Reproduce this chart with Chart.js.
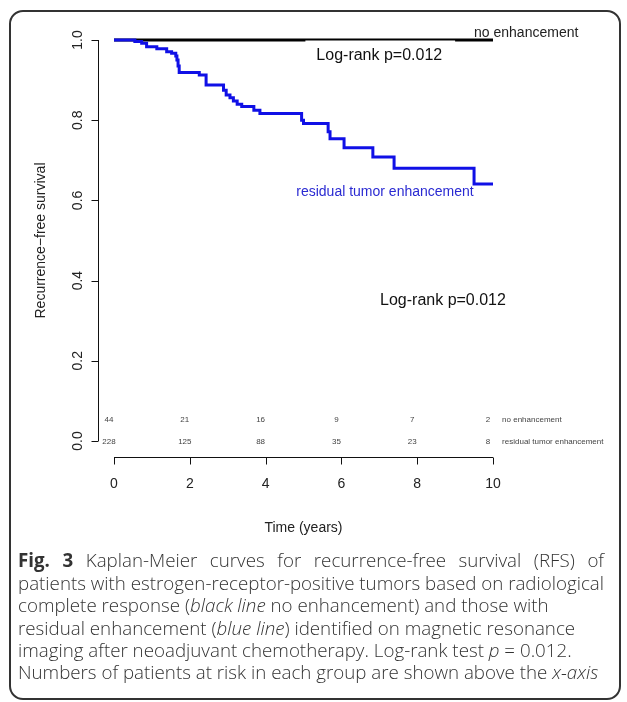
<!DOCTYPE html>
<html>
<head>
<meta charset="utf-8">
<script src="https://cdn.jsdelivr.net/npm/chart.js@4.4.1/dist/chart.umd.min.js"></script>
<style>
    html, body { margin: 0; padding: 0; background: #fff; }
    #wrap { position: relative; width: 627px; height: 702px; overflow: hidden; }
    #frame { position: absolute; left: 9px; top: 10px; width: 608px; height: 686px; border: 2px solid #333; border-radius: 14px; }
    #c { position: absolute; left: 0; top: 0; }
</style>
</head>
<body>
<div id="wrap">
    <div id="frame"></div>
    <canvas id="c" width="627" height="702"></canvas>
</div>
<script>
// data
const timeTicks = [0, 2, 4, 6, 8, 10];
const survTicks = [0, 0.2, 0.4, 0.6, 0.8, 1.0];
const groups = ['no enhancement', 'residual tumor enhancement'];

const noEnhTime = [0, 10];
const noEnhSurv = [1, 1];

const residTime = [0, 0.55, 0.73, 0.86, 1.13, 1.39, 1.52, 1.63, 1.66, 1.69, 1.72, 2.25, 2.43,
    2.89, 2.96, 3.06, 3.15, 3.25, 3.37, 3.69, 3.85, 4.95, 5.0, 5.65, 5.7, 6.07, 6.83, 7.39, 9.5, 10];
const residSurv = [1, 0.996, 0.992, 0.983, 0.978, 0.971, 0.967, 0.96, 0.95, 0.935, 0.919, 0.913, 0.888,
    0.875, 0.863, 0.856, 0.848, 0.84, 0.834, 0.825, 0.817, 0.8, 0.792, 0.771, 0.754, 0.731, 0.708, 0.68, 0.641, 0.641];

const atRiskNoEnh = [44, 21, 16, 9, 7, 2];
const atRiskResid = [228, 125, 88, 35, 23, 8];

const pValueText = 'Log-rank p=0.012';

const caption = [
    [['Fig. 3', 'b'], [' Kaplan-Meier curves for recurrence-free survival (RFS) of', '']],
    [['patients with estrogen-receptor-positive tumors based on radiological', '']],
    [['complete response (', ''], ['black line', 'i'], [' no enhancement) and those with', '']],
    [['residual enhancement (', ''], ['blue line', 'i'], [') identified on magnetic resonance', '']],
    [['imaging after neoadjuvant chemotherapy. Log-rank test ', ''], ['p', 'i'], [' = 0.012.', '']],
    [['Numbers of patients at risk in each group are shown above the ', ''], ['x-axis', 'i']]
];

const R_FONT = '"Liberation Sans", Arial, sans-serif';
const CAP_FONT = '"Open Sans", sans-serif';

function toPoints(xs, ys) {
    return xs.map((x, i) => ({ x: x, y: ys[i] }));
}

function capFont(style) {
    if (style === 'b') return '700 19px ' + CAP_FONT;
    if (style === 'i') return 'italic 300 19px ' + CAP_FONT;
    return '300 19px ' + CAP_FONT;
}

function tokens(line) {
    const out = [];
    line.forEach(([text, style]) => {
        text.split(/( )/).forEach(piece => {
            if (piece) out.push({ text: piece, font: capFont(style), space: piece === ' ' });
        });
    });
    return out;
}

function lineWidth(ctx, toks) {
    let w = 0;
    toks.forEach(t => { ctx.font = t.font; w += ctx.measureText(t.text).width; });
    return w;
}

// draws a caption line squeezed by sx, optionally justified to width
function drawCaptionLine(ctx, line, x0, y, sx, justify) {
    const toks = tokens(line);
    const natural = lineWidth(ctx, toks);
    const gaps = toks.filter(t => t.space).length;
    const extra = justify && gaps ? (justify / sx - natural) / gaps : 0;
    ctx.save();
    ctx.translate(x0, y);
    ctx.scale(sx, 1);
    let x = 0;
    toks.forEach(t => {
        ctx.font = t.font;
        if (!t.space) ctx.fillText(t.text, x, 0);
        x += ctx.measureText(t.text).width + (t.space ? extra : 0);
    });
    ctx.restore();
}

const rStylePlot = {
    id: 'rStylePlot',
    afterDatasetsDraw(chart) {
        const ctx = chart.ctx;
        const xs = chart.scales.x;
        const ys = chart.scales.y;
        const px = v => xs.getPixelForValue(v);
        const py = v => ys.getPixelForValue(v);

        ctx.save();

        // white legend box behind the first p-value, it eats half of the black line
        ctx.fillStyle = '#fff';
        ctx.fillRect(px(5.05), py(1) + 0.5, px(9.0) - px(5.05), 34);

        // axes, R style: detached by 4%
        ctx.strokeStyle = '#111';
        ctx.lineWidth = 1;
        const xAxisY = Math.round(py(-0.04)) + 0.5;
        const yAxisX = Math.round(px(-0.42)) + 0.5;
        ctx.beginPath();
        ctx.moveTo(px(timeTicks[0]), xAxisY);
        ctx.lineTo(px(timeTicks[timeTicks.length - 1]), xAxisY);
        timeTicks.forEach(t => {
            const x = Math.round(px(t)) + 0.5;
            ctx.moveTo(x, xAxisY);
            ctx.lineTo(x, xAxisY + 7);
        });
        ctx.moveTo(yAxisX, py(survTicks[0]));
        ctx.lineTo(yAxisX, py(survTicks[survTicks.length - 1]));
        survTicks.forEach(s => {
            const y = Math.round(py(s)) + 0.5;
            ctx.moveTo(yAxisX, y);
            ctx.lineTo(yAxisX - 7, y);
        });
        ctx.stroke();

        ctx.fillStyle = '#222';
        ctx.font = '14px ' + R_FONT;
        ctx.textAlign = 'center';
        ctx.textBaseline = 'middle';
        timeTicks.forEach(t => ctx.fillText(String(t), px(t), xAxisY + 27));
        survTicks.forEach(s => {
            ctx.save();
            ctx.translate(yAxisX - 20, py(s));
            ctx.rotate(-Math.PI / 2);
            ctx.fillText(s.toFixed(1), 0, 0);
            ctx.restore();
        });

        // axis titles
        ctx.fillText('Time (years)', px(5), xAxisY + 71);
        ctx.save();
        ctx.translate(yAxisX - 57, py(0.5));
        ctx.rotate(-Math.PI / 2);
        ctx.fillText('Recurrence\u2212free survival', 0, 0);
        ctx.restore();

        // at-risk numbers
        ctx.font = '8px ' + R_FONT;
        ctx.fillStyle = '#444';
        timeTicks.forEach((t, i) => {
            ctx.fillText(String(atRiskNoEnh[i]), px(t) - 5, py(0.052));
            ctx.fillText(String(atRiskResid[i]), px(t) - 5, py(-0.002));
        });
        ctx.textAlign = 'left';
        ctx.fillText(groups[0], px(10.24), py(0.052));
        ctx.fillText(groups[1], px(10.24), py(-0.002));

        // curve labels and p-values
        ctx.fillStyle = '#222';
        ctx.font = '14px ' + R_FONT;
        ctx.fillText(groups[0], px(9.5), py(1.017));
        ctx.fillStyle = '#2a2ad2';
        ctx.textAlign = 'center';
        ctx.fillText(groups[1], px(7.15), py(0.621));
        ctx.fillStyle = '#111';
        ctx.font = '16px ' + R_FONT;
        ctx.fillText(pValueText, px(7.0), py(0.96));
        ctx.fillText(pValueText, px(8.68), py(0.35));

        // figure caption
        ctx.fillStyle = '#333';
        ctx.textAlign = 'left';
        ctx.textBaseline = 'middle';
        const capLeft = 18;
        const capWidth = 586;
        const sx = capWidth / lineWidth(ctx, tokens(caption[1]));
        const capTop = 562;
        const capStep = 22.4;
        caption.forEach((line, i) => {
            drawCaptionLine(ctx, line, capLeft, capTop + i * capStep, sx, i === 0 ? capWidth : 0);
        });

        ctx.restore();
    }
};

new Chart(document.getElementById('c'), {
    type: 'line',
    data: {
        datasets: [
            {
                label: groups[1],
                data: toPoints(residTime, residSurv),
                borderColor: '#1010e6',
                borderWidth: 3,
                stepped: 'before',
                pointRadius: 0,
                fill: false,
                clip: false,
                borderJoinStyle: 'miter',
                borderCapStyle: 'butt'
            },
            {
                label: groups[0],
                data: toPoints(noEnhTime, noEnhSurv),
                borderColor: '#000',
                borderWidth: 3,
                stepped: 'before',
                pointRadius: 0,
                fill: false,
                clip: false,
                borderCapStyle: 'butt'
            }
        ]
    },
    options: {
        responsive: false,
        animation: false,
        events: [],
        layout: {
            padding: { left: 114, right: 134, top: 40, bottom: 261 }
        },
        scales: {
            x: { type: 'linear', min: 0, max: 10, display: false },
            y: { type: 'linear', min: 0, max: 1, display: false }
        },
        plugins: {
            legend: { display: false },
            tooltip: { enabled: false }
        }
    },
    plugins: [rStylePlot]
});
</script>
</body>
</html>
